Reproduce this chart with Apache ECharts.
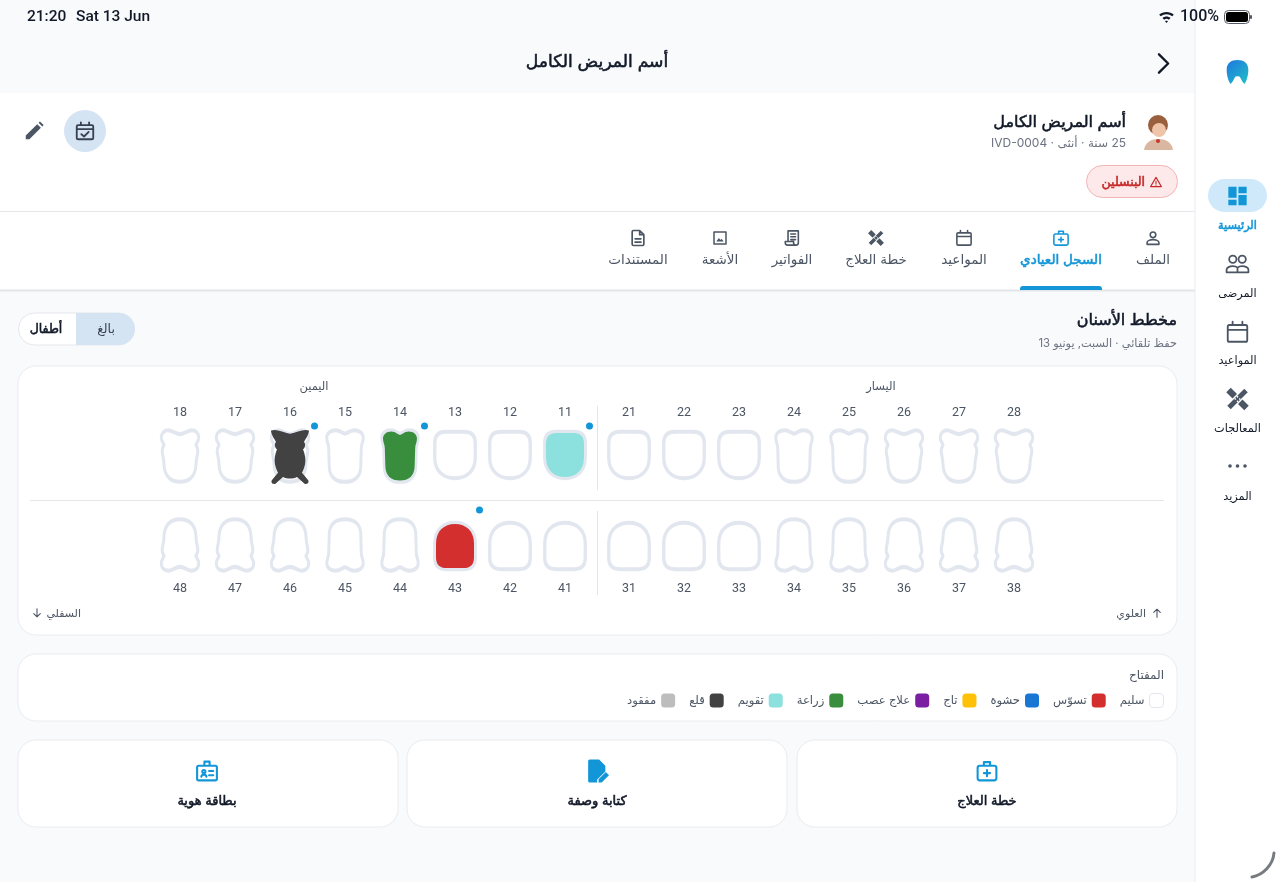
<!DOCTYPE html>
<html>
<head>
<meta charset="utf-8">
<style>
html, body { margin: 0; padding: 0; background: #f8fafc; }
#main { width: 1280px; height: 882px; }
</style>
<script src="https://cdn.jsdelivr.net/npm/echarts@6/dist/echarts.min.js"></script>
</head>
<body>
<div id="main" dir="rtl"></div>
<script>
'use strict';

// teeth, in reading order on the picture
const upperRightTeeth = ['18', '17', '16', '15', '14', '13', '12', '11'];
const upperLeftTeeth = ['21', '22', '23', '24', '25', '26', '27', '28'];
const lowerRightTeeth = ['48', '47', '46', '45', '44', '43', '42', '41'];
const lowerLeftTeeth = ['31', '32', '33', '34', '35', '36', '37', '38'];

// index into statusNames for each tooth
const upperRightStatus = [0, 0, 7, 0, 5, 0, 0, 6];
const upperLeftStatus = [0, 0, 0, 0, 0, 0, 0, 0];
const lowerRightStatus = [0, 0, 0, 0, 0, 1, 0, 0];
const lowerLeftStatus = [0, 0, 0, 0, 0, 0, 0, 0];

// blue dot next to a tooth
const upperRightFlags = [0, 0, 1, 0, 1, 0, 0, 1];
const upperLeftFlags = [0, 0, 0, 0, 0, 0, 0, 0];
const lowerRightFlags = [0, 0, 0, 0, 0, 1, 0, 0];
const lowerLeftFlags = [0, 0, 0, 0, 0, 0, 0, 0];

const statusNames = ['سليم', 'تسوّس', 'حشوة', 'تاج', 'علاج عصب', 'زراعة', 'تقويم', 'قلع', 'مفقود'];
const statusColors = ['#ffffff', '#d32f2f', '#1976d2', '#ffc107', '#7b1fa2', '#388e3c', '#8ce0dd', '#424242', '#bdbdbd'];

const tabLabels = ['الملف', 'السجل العيادي', 'المواعيد', 'خطة العلاج', 'الفواتير', 'الأشعة', 'المستندات'];
const navLabels = ['الرئيسية', 'المرضى', 'المواعيد', 'المعالجات', 'المزيد'];
const actionLabels = ['خطة العلاج', 'كتابة وصفة', 'بطاقة هوية'];

const FONT = 'Inter, "Noto Sans", "DejaVu Sans", sans-serif';
const INK = '#111827';
const GREY = '#4b5563';
const BLUE = '#1296d8';
const OUTLINE = '#e2e6ef';
const CARD_LINE = '#e9ecf1';

// tooth shapes, upper jaw; lower jaw is the same thing flipped
const molarPath = 'M20.5 5C25 5 30 1 33 1C38 1 41 4 41 9C41 12 38.5 14 38 16C38.5 18 40 19 40 22C40 26 38 30 38 36C37.5 49 30 54 20.5 54C11 54 3.5 49 3 36C3 30 1 26 1 22C1 19 2.5 18 3 16C2.5 14 0 12 0 9C0 4 3 1 8 1C11 1 16 5 20.5 5Z';
const premolarPath = 'M18.5 5.5C21 5.5 23 2 28 2C33 2 37 5 37 9.5C37 14 35 16 35 20L34.5 38C34.5 49 28 54 18.5 54C9 54 2.5 49 2.5 38L2 20C2 16 0 14 0 9.5C0 5 4 2 9 2C14 2 16 5.5 18.5 5.5Z';
const frontPath = 'M12 0L31 0C39 0 43 4 43 12L43 28C43 42 34 50 21.5 50C9 50 0 42 0 28L0 12C0 4 4 0 12 0Z';
const pulledPath = 'M0 2C6 0 12 4 19 5C26 4 32 0 38 2C38 6 34 11 33 13C35 15 34 19 32 20C34 25 35 30 34 35C33 39 32 41 31 43L37 50C39 53 35 55 33 53L26 47C22 49 16 49 12 47L5 53C3 55 -1 53 1 50L7 43C6 41 5 39 4 35C3 30 4 25 6 20C4 19 3 15 5 13C4 11 0 6 0 2Z';

function flipPath(d, h) {
    let i = 0;
    return d.replace(/-?[\d.]+/g, n => (i++ % 2 ? h - n : n));
}

function toothShape(tooth) {
    const kind = +tooth[1];
    const upper = tooth[0] === '1' || tooth[0] === '2';
    if (kind <= 3) {
        return {d: upper ? frontPath : flipPath(frontPath, 50), w: 44, h: 50, dy: upper ? -1 : 1};
    }
    if (kind <= 5) {
        return {d: upper ? premolarPath : flipPath(premolarPath, 55), w: 40, h: 55, dy: 0};
    }
    return {d: upper ? molarPath : flipPath(molarPath, 55), w: 41, h: 55, dy: 0};
}

const quadrants = [
    {teeth: upperRightTeeth, status: upperRightStatus, flags: upperRightFlags, left: 152.5, top: 426, position: 'top'},
    {teeth: upperLeftTeeth, status: upperLeftStatus, flags: upperLeftFlags, left: 601.5, top: 426, position: 'top'},
    {teeth: lowerRightTeeth, status: lowerRightStatus, flags: lowerRightFlags, left: 152.5, top: 515, position: 'bottom'},
    {teeth: lowerLeftTeeth, status: lowerLeftStatus, flags: lowerLeftFlags, left: 601.5, top: 515, position: 'bottom'},
];

const grids = quadrants.map(q => ({left: q.left, top: q.top, width: 440, height: 60}));
const xAxes = quadrants.map((q, i) => ({
    type: 'category',
    gridIndex: i,
    position: q.position,
    data: q.teeth,
    axisLine: {show: false},
    axisTick: {show: false},
    axisLabel: {interval: 0, margin: 7, color: GREY, fontSize: 12.5, fontFamily: 'Roboto, ' + FONT},
}));
const yAxes = quadrants.map((q, i) => ({type: 'value', gridIndex: i, min: -1, max: 1, show: false}));

const series = [];
quadrants.forEach((q, i) => {
    statusNames.forEach((name, s) => {
        const data = [];
        q.teeth.forEach((tooth, t) => {
            if (s && q.status[t] !== s) {
                return;
            }
            const shape = toothShape(tooth);
            if (!s) {
                data.push({value: [tooth, 0], symbol: 'path://' + shape.d, symbolSize: [shape.w - 3.5, shape.h - 3.5], symbolOffset: [0, shape.dy]});
            } else if (name === 'قلع') {
                data.push({value: [tooth, 0], symbol: 'path://' + pulledPath, symbolSize: [38, 54], symbolOffset: [0, 1]});
            } else {
                data.push({value: [tooth, 0], symbol: 'path://' + shape.d, symbolSize: [shape.w - 6, shape.h - 6], symbolOffset: [0, shape.dy]});
            }
        });
        series.push({
            name,
            type: 'scatter',
            xAxisIndex: i,
            yAxisIndex: i,
            z: 2 + (s ? 1 : 0),
            silent: true,
            itemStyle: s ? {color: statusColors[s], opacity: 1} : {color: '#ffffff', borderColor: OUTLINE, borderWidth: 3.5, opacity: 1},
            data,
        });
    });
    series.push({
        name: 'flag',
        type: 'scatter',
        xAxisIndex: i,
        yAxisIndex: i,
        z: 5,
        silent: true,
        symbol: 'circle',
        symbolSize: 7,
        symbolOffset: [24.5, i < 2 ? -30 : -35],
        itemStyle: {color: BLUE, opacity: 1},
        data: q.teeth.filter((tooth, t) => q.flags[t]).map(tooth => [tooth, 0]),
    });
});

// small helpers for the page around the chart
function rect(x, y, w, h, fill, r, stroke) {
    return {type: 'rect', shape: {x, y, width: w, height: h, r: r || 0}, style: {fill, stroke: stroke || 'none', lineWidth: 1}, silent: true};
}
function dot(cx, cy, r, fill) {
    return {type: 'circle', silent: true, shape: {cx, cy, r}, style: {fill}};
}
function text(str, x, y, size, color, align, weight, family) {
    // the arabic fallback has a much wider bold face, so bold is a thin stroke on the regular one
    const style = {
        text: str, x, y, fill: color, align: align || 'center', verticalAlign: 'middle',
        font: (weight && weight !== 'bold' ? weight : 'normal') + ' ' + size + 'px ' + (family || FONT),
    };
    if (weight === 'bold') {
        style.stroke = color;
        style.lineWidth = 0.55;
    }
    return {type: 'text', silent: true, style};
}

// graphic has no plain path type, so each svg path is registered as a shape
const shapeTypes = {};
function pathType(d) {
    if (!shapeTypes[d]) {
        shapeTypes[d] = 'icon' + Object.keys(shapeTypes).length;
        echarts.graphic.registerShape(shapeTypes[d], echarts.graphic.extendPath(d, {}));
    }
    return shapeTypes[d];
}
function freePath(d, style) {
    return {type: pathType(d), silent: true, style};
}
function icon(d, cx, cy, size, color, filled, lw) {
    const s = size / 24;
    return {
        type: pathType(d),
        silent: true,
        x: cx - size / 2,
        y: cy - size / 2,
        scaleX: s,
        scaleY: s,
        style: {fill: filled ? color : 'none', stroke: filled ? 'none' : color, lineWidth: lw || 2, lineCap: 'round', lineJoin: 'round'},
    };
}

const icons = {
    person: 'M12 4.5a3.5 3.5 0 1 1 0 7a3.5 3.5 0 1 1 0-7zM4.5 20v-2c0-2.5 4-4 7.5-4s7.5 1.5 7.5 4v2z',
    kit: 'M5 7h14a2 2 0 0 1 2 2v10a2 2 0 0 1-2 2H5a2 2 0 0 1-2-2V9a2 2 0 0 1 2-2zM9 7V3.5h6V7M12 11v6M9 14h6',
    cal: 'M4.5 5.5h15a1.5 1.5 0 0 1 1.5 1.5v12.5a1.5 1.5 0 0 1-1.5 1.5h-15a1.5 1.5 0 0 1-1.5-1.5V7a1.5 1.5 0 0 1 1.5-1.5zM3 10h18M7.5 2.5v3M16.5 2.5v3',
    calCheck: 'M4.5 5.5h15a1.5 1.5 0 0 1 1.5 1.5v12.5a1.5 1.5 0 0 1-1.5 1.5h-15a1.5 1.5 0 0 1-1.5-1.5V7a1.5 1.5 0 0 1 1.5-1.5zM3 10h18M7.5 2.5v3M16.5 2.5v3M8 15.5l3 2.5l5-5',
    bandA: 'M6 2L22 18L18 22L2 6Z',
    bandB: 'M18 2L22 6L6 22L2 18Z',
    bandDots: 'M12 9.2l.9.9l-.9.9l-.9-.9zM12 13l.9.9l-.9.9l-.9-.9zM10 11.1l.9.9l-.9.9l-.9-.9zM14 11.1l.9.9l-.9.9l-.9-.9z',
    receipt: 'M7 3h13v15a3 3 0 0 1-3 3H6.5a3 3 0 0 1-3-3v-1.5H14V18a3 3 0 0 0 3 3M7 16V3M10.5 7h6M10.5 10.5h6M10.5 14h6',
    image: 'M4 4h16v16H4z',
    mount: 'M7 16.5l3.5-4.5l2 2.5l1.5-1.5l3 3.5z',
    doc: 'M6.5 3h7.5l5 5v11.5a1.5 1.5 0 0 1-1.5 1.5h-11a1.5 1.5 0 0 1-1.5-1.5v-15a1.5 1.5 0 0 1 1.5-1.5zM14 3v5h5M8.5 13h7M8.5 17h7',
    people: 'M7.5 4a3.5 3.5 0 1 1 0 7a3.5 3.5 0 1 1 0-7zM16.5 4a3.5 3.5 0 1 1 0 7a3.5 3.5 0 1 1 0-7zM1.5 20v-2.5c0-2 3-3.5 6-3.5c2 0 3.5 .5 4.5 1.5c1-1 2.5-1.5 4.5-1.5c3 0 6 1.5 6 3.5v2.5zM12 15.5V20',
    grid: 'M2 2h9v12H2zM13 2h9v7H13zM13 11h9v11H13zM2 16h9v6H2z',
    idCard: 'M4 7h16a1.5 1.5 0 0 1 1.5 1.5v11a1.5 1.5 0 0 1-1.5 1.5H4a1.5 1.5 0 0 1-1.5-1.5v-11A1.5 1.5 0 0 1 4 7zM9.5 7V3h5v4M6.5 17.5c.3-1.5 1.3-2 2.5-2s2.2.5 2.5 2M9 11a1.5 1.5 0 1 1 0 3a1.5 1.5 0 1 1 0-3zM14 12h4M14 16h4',
    script: 'M5 1h9l6 6v5.5l-8 8V23H5a1.5 1.5 0 0 1-1.5-1.5v-19A1.5 1.5 0 0 1 5 1z',
    pen: 'M13.5 23v-3l7-7l3 3l-7 7z',
    pencil: 'M3 21v-4L15.5 4.5l4 4L7 21zM17 3l1.5-1.5l4 4L21 7z',
    warn: 'M12 3.5L22 20.5H2ZM12 10v5M12 17.5v.5',
    tooth: 'M12 1C18 1 22 4 22 10C22 16 20 21 18.5 23C17 22 15.5 19 14.5 17C14 16 13 16 12 16C11 16 10 16 9.5 17C8.5 19 7 22 5.5 23C4 21 2 16 2 10C2 4 6 1 12 1Z',
    wifi: 'M1 8.5C7 3 17 3 23 8.5L20.5 11C16 7 8 7 3.5 11ZM6 13.5C9.5 10.5 14.5 10.5 18 13.5L15.5 16C13.5 14.3 10.5 14.3 8.5 16ZM12 21L9.8 18.3C11 17.3 13 17.3 14.2 18.3Z',
    arrowUp: 'M12 20V5M6 11l6-6l6 6',
    arrowDown: 'M12 4v15M6 13l6 6l6-6',
    chevron: 'M2 1L13 12L2 23',
};

const tabX = [1153, 1061, 964, 876, 792, 720, 638];
const navY = [225, 293, 360, 428, 496];
const actionX = [987, 597, 207];

const logo = icon(icons.tooth, 1237.5, 72, 26, '#1e88e5', true);
logo.style.fill = new echarts.graphic.LinearGradient(0, 0, 1, 1, [{offset: 0, color: '#1e78e0'}, {offset: 1, color: '#1fc0c4'}]);

function bandage(cx, cy, size) {
    const top = icon(icons.bandB, cx, cy, size, GREY, true);
    top.style.stroke = '#ffffff';
    top.style.lineWidth = 1.3;
    return [icon(icons.bandA, cx, cy, size, GREY, true), top, icon(icons.bandDots, cx, cy, size, '#ffffff', true)];
}

const chrome = [
    rect(0, 0, 1280, 882, '#f8fafc'),
    rect(0, 93, 1195, 118, '#ffffff'),
    rect(0, 212, 1195, 78, '#ffffff'),
    rect(0, 211, 1195, 1, '#e5e7eb'),
    rect(0, 289.5, 1195, 2, '#e2e5ea'),
    rect(1195, 0, 85, 882, '#ffffff'),
    rect(1194.5, 0, 1, 882, CARD_LINE),

    // status bar
    text('21:20', 27, 17, 15.5, INK, 'left', '500', 'Roboto, ' + FONT),
    text('Sat 13 Jun', 76, 17, 15.5, INK, 'left', '500', 'Roboto, ' + FONT),
    icon(icons.wifi, 1166.5, 17, 16, INK, true),
    text('100%', 1219, 17, 16, INK, 'right', '500', 'Roboto, ' + FONT),
    rect(1224.5, 10.5, 25, 13, 'none', 4, '#555b66'),
    rect(1226, 12, 22, 10, '#000000', 2.5),
    rect(1250, 15, 2, 4, '#555b66', 1),

    // header
    text('أسم المريض الكامل', 597, 62, 17.2, INK, 'center', 'bold'),
    icon(icons.chevron, 1167.3, 63.5, 20, INK, false, 2.8),

    // patient
    dot(1158, 125, 10, '#9a5f3c'),
    freePath('M1144 150C1145 142 1152 139 1158 139C1165 139 1172 142 1173 150Z', {fill: '#d9b7a0'}),
    dot(1159, 130, 7, '#f0c4a8'),
    dot(1158, 141, 2, '#c0392b'),
    text('أسم المريض الكامل', 1126, 122, 16, INK, 'right', 'bold'),
    text('25 سنة · أنثى · IVD-0004', 1126, 143, 12, '#6b7280', 'right'),
    rect(1086.5, 165.5, 91, 32, '#fde9e9', 16, '#f3b4b4'),
    text('البنسلين', 1145, 182.5, 12.5, '#c62828', 'right', 'bold'),
    icon(icons.warn, 1156, 182, 13, '#c62828', false, 2),
    dot(85, 131, 21, '#d5e4f3'),
    icon(icons.calCheck, 85, 131, 22, '#374151', false, 2),
    icon(icons.pencil, 34, 131, 22, '#4b5563', true),

    // tabs
    rect(1020, 286, 82, 4, BLUE, [3, 3, 0, 0]),
    icon(icons.person, tabX[0], 238, 19, GREY, false, 2),
    icon(icons.kit, tabX[1], 238, 19, BLUE, false, 2),
    icon(icons.cal, tabX[2], 238, 19, GREY, false, 2),
    ...bandage(tabX[3], 238, 19),
    icon(icons.receipt, tabX[4], 238, 19, GREY, false, 2),
    icon(icons.image, tabX[5], 238, 18, GREY, false, 2),
    icon(icons.mount, tabX[5], 238, 18, GREY, true),
    icon(icons.doc, tabX[6], 238, 20, GREY, false, 2),

    // chart heading and toggle
    text('مخطط الأسنان', 1177, 320.5, 16, INK, 'right', 'bold'),
    text('حفظ تلقائي · السبت, يونيو 13', 1177, 343.5, 11.3, '#6b7280', 'right'),
    rect(18.5, 313, 116, 32, '#ffffff', 16, '#e5e7eb'),
    rect(76, 313, 59, 32, '#d5e4f3', [0, 16, 16, 0]),
    text('بالغ', 106, 329.5, 12.5, '#374151'),
    text('أطفال', 46, 329.5, 12.5, INK, 'center', 'bold'),

    // tooth card
    rect(18, 366, 1159, 269, '#ffffff', 18, CARD_LINE),
    text('اليمين', 314, 386.5, 11.5, GREY),
    text('اليسار', 881, 386.5, 11.5, GREY),
    rect(30, 500, 1134, 1, '#e5e7eb'),
    rect(597, 406, 1, 84, '#e2e5ea'),
    rect(597, 511, 1, 84, '#e2e5ea'),
    icon(icons.arrowUp, 1157, 613, 13, GREY, false, 2),
    text('العلوي', 1146, 613.5, 11, GREY, 'right'),
    icon(icons.arrowDown, 37, 613, 13, GREY, false, 2),
    text('السفلي', 81, 613.5, 11, GREY, 'right'),

    // legend card
    rect(18, 654, 1159, 67, '#ffffff', 18, CARD_LINE),
    text('المفتاح', 1164, 675.5, 12, GREY, 'right'),

    // action cards
    rect(797, 740, 380, 87, '#ffffff', 18, CARD_LINE),
    rect(407, 740, 380, 87, '#ffffff', 18, CARD_LINE),
    rect(18, 740, 380, 87, '#ffffff', 18, CARD_LINE),
    icon(icons.kit, actionX[0], 771, 25, BLUE, false, 2),
    icon(icons.script, actionX[1], 771, 25, BLUE, true),
    icon(icons.pen, actionX[1], 771, 25, BLUE, true),
    icon(icons.idCard, actionX[2], 771, 25, BLUE, false, 2),

    // sidebar
    logo,
    rect(1208, 179, 59, 33, '#cfe9fa', 16.5),
    icon(icons.grid, 1237.5, 196, 22, BLUE, true),
    icon(icons.people, 1237.5, 264, 25, GREY, false, 1.7),
    icon(icons.cal, 1237.5, 332, 26, GREY, false, 1.7),
    ...bandage(1237.5, 399, 27),
    dot(1230, 466, 1.8, GREY),
    dot(1237.5, 466, 1.8, GREY),
    dot(1245, 466, 1.8, GREY),
    freePath('M1274 853C1273 865 1263 875 1252 877', {fill: 'none', stroke: '#777b80', lineWidth: 3, lineCap: 'round'}),
];

tabLabels.forEach((label, i) => {
    chrome.push(text(label, tabX[i], 259.5, 13.5, i === 1 ? BLUE : GREY, 'center', i === 1 ? 'bold' : 'normal'));
});
navLabels.forEach((label, i) => {
    chrome.push(text(label, 1237.5, navY[i] + 0.5, 11.3, i === 0 ? BLUE : INK, 'center', i === 0 ? 'bold' : 'normal'));
});
actionLabels.forEach((label, i) => {
    chrome.push(text(label, actionX[i], 801.5, 13, INK, 'center', 'bold'));
});

const legendData = statusNames.map((name, s) => ({
    name,
    icon: 'roundRect',
    itemStyle: s ? {color: statusColors[s], borderWidth: 0} : {color: '#ffffff', borderColor: '#e2e6ef', borderWidth: 1},
})).reverse();

const chart = echarts.init(document.getElementById('main'));
chart.setOption({
    animation: false,
    backgroundColor: 'transparent',
    graphic: {elements: chrome},
    legend: {
        data: legendData,
        right: 116,
        top: 693,
        padding: 0,
        align: 'right',
        itemWidth: 14,
        itemHeight: 14,
        itemGap: 14,
        selectedMode: false,
        textStyle: {color: GREY, fontSize: 11.6, fontFamily: FONT},
    },
    grid: grids,
    xAxis: xAxes,
    yAxis: yAxes,
    series,
});
</script>
</body>
</html>
